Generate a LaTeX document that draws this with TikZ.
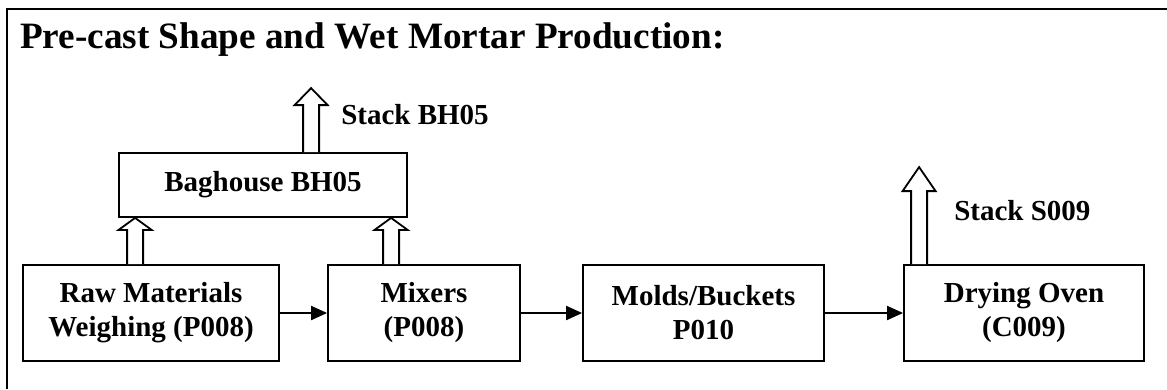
\documentclass[tikz,border=0pt]{standalone}
\usepackage{fontspec}
\setmainfont{Liberation Serif}
\usepackage{tikz}
\usetikzlibrary{arrows.meta,calc}
\definecolor{ink}{HTML}{000000}
\tikzset{
  frame/.style={line width=2pt, draw=ink},
  box/.style={rectangle, draw=ink, line width=1.8pt, fill=white, align=center,
    inner sep=0pt, font=\fontsize{29}{34}\selectfont\bfseries},
  flow/.style={-{Triangle[length=16pt,width=14pt]}, line width=2pt, draw=ink},
  fat/.style={line width=1.8pt, draw=ink, fill=white, line join=miter},
  lbl/.style={inner sep=0pt, font=\fontsize{29}{34}\selectfont\bfseries}
}
\newcommand{\FatUp}[3]{% base, tip, head length
  \draw[fat] ($(#1)+(-8,0)$) -- ($(#2)+(-8,#3)$) -- ($(#2)+(-16.5,#3)$) -- (#2)
    -- ($(#2)+(16.5,#3)$) -- ($(#2)+(8,#3)$) -- ($(#1)+(8,0)$);
}

\begin{document}
\begin{tikzpicture}[x=1pt, y=-1pt]
  \useasboundingbox (0,0) rectangle (1167,389);
  \draw[frame] (7,389) -- (7,9) -- (1167,9);
  \node[lbl, anchor=base west, font=\fontsize{37.2}{40}\selectfont\bfseries] (title) at (20,48)
    {Pre-cast Shape and Wet Mortar Production:};
  % process boxes
  \node[box, minimum width=256, minimum height=96] (raw)  at (151,313) {Raw Materials\\Weighing (P008)};
  \node[box, minimum width=192, minimum height=96] (mix)  at (424,313) {Mixers\\(P008)};
  \node[box, minimum width=241, minimum height=96] (mold) at (703.5,313) {Molds/Buckets\\P010};
  \node[box, minimum width=240, minimum height=96] (oven) at (1024,313) {Drying Oven\\(C009)};
  \node[box, minimum width=288, minimum height=64] (bag)  at (263,185) {Baghouse BH05};
  \draw[flow] (raw) -- (mix);
  \draw[flow] (mix) -- (mold);
  \draw[flow] (mold) -- (oven);
  % vents and stacks
  \coordinate (rawvent) at ($(raw.north west)+(113,0)$);
  \coordinate (mixvent) at ($(mix.north west)+(64,0)$);
  \coordinate (rawtip) at (rawvent |- bag.south);
  \coordinate (mixtip) at (mixvent |- bag.south);
  \coordinate (bagvent) at ($(bag.north west)+(193,0)$);
  \coordinate (bagtip) at ($(bagvent)+(0,-64)$);
  \coordinate (ovenvent) at ($(oven.north west)+(16,0)$);
  \coordinate (oventip) at ($(ovenvent)+(0,-97)$);
  \FatUp{rawvent}{rawtip}{12}
  \FatUp{mixvent}{mixtip}{12}
  \FatUp{bagvent}{bagtip}{17}
  \FatUp{ovenvent}{oventip}{24}
  \node[lbl, anchor=base west] (bhstack) at ($(bagvent)+(30,-28)$) {Stack BH05};
  \node[lbl, anchor=base west] (ovstack) at ($(ovenvent)+(35,-44)$) {Stack S009};
\end{tikzpicture}
\end{document}
